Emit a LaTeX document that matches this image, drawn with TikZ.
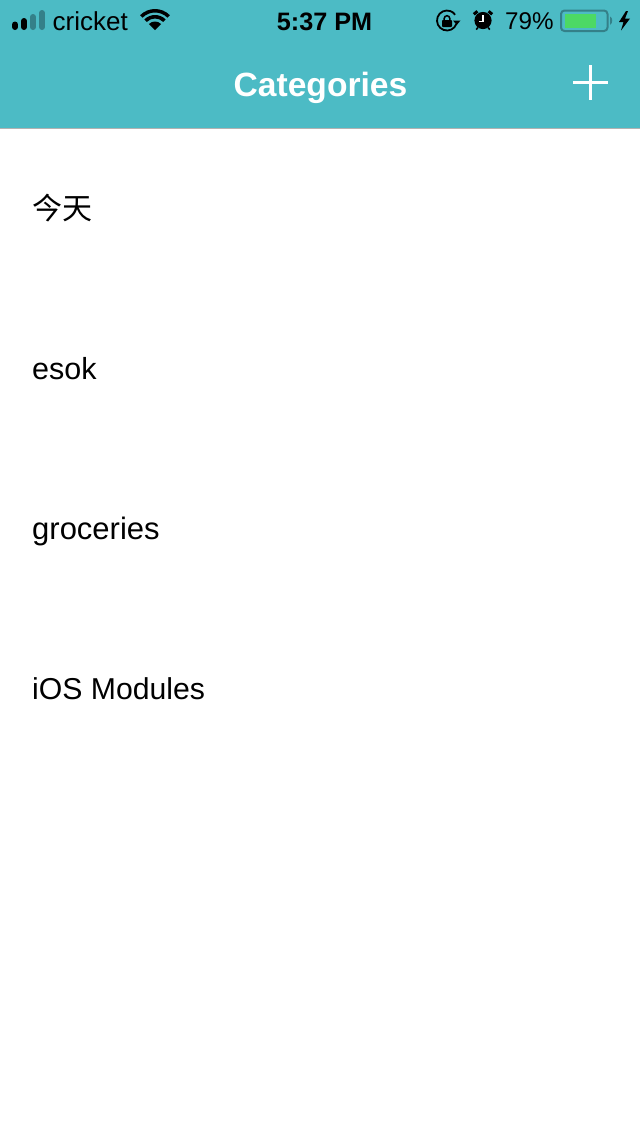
\documentclass[tikz,border=0pt]{standalone}
\usepackage{fontspec}
\setmainfont{Liberation Sans}
\newfontfamily\cjk{Noto Sans CJK SC}
\definecolor{teal}{RGB}{76,187,197}
\definecolor{dimbar}{RGB}{52,128,137}
\definecolor{batt}{RGB}{76,217,100}
\tikzset{
 rowtext/.style={anchor=base west,inner sep=0pt,font=\fontsize{30.5}{34}\selectfont,text=black},
 stat/.style={inner sep=0pt,font=\fontsize{26}{30}\selectfont,text=black},
 bar/.style={line width=6pt,line cap=round},
}
\begin{document}
\begin{tikzpicture}[x=1pt,y=-1pt]
\useasboundingbox (0,0) rectangle (640,1136);
\fill[white] (0,0) rectangle (640,1136);
\fill[teal] (0,0) rectangle (640,128);
\fill[black!30] (0,128) rectangle (640,129);
% signal
\draw[bar,black] (15,24.5) -- (15,27);
\draw[bar,black] (24,21) -- (24,27);
\draw[bar,dimbar] (33,17) -- (33,27);
\draw[bar,dimbar] (42,13) -- (42,27);
\node[stat,anchor=base west] (carrier) at (52.5,30) {cricket};
% wifi (y axis up, apex at origin)
\begin{scope}[shift={(155,30)},yscale=-1]
\fill (0,0) -- (45:8.5) arc[start angle=45,end angle=135,radius=8.5] -- cycle;
\fill (45:11.5) arc[start angle=45,end angle=135,radius=11.5] -- (135:15) arc[start angle=135,end angle=45,radius=15] -- cycle;
\fill (45:17.5) arc[start angle=45,end angle=135,radius=17.5] -- (135:21) arc[start angle=135,end angle=45,radius=21] -- cycle;
\end{scope}
\node[stat,anchor=base,font=\fontsize{25.2}{30}\selectfont\bfseries] (time) at (324.5,30) {5:37 PM};
% rotation lock
\begin{scope}[shift={(447,20.5)},yscale=-1]
\draw[line width=1.8pt] (-20:10) arc[start angle=-20,end angle=-325,radius=10];
\fill (6,0) -- (13.5,0) -- (9.8,-4.5) -- cycle;
\fill[rounded corners=0.8pt] (-5,-6.5) rectangle (5,0.5);
\draw[line width=1.5pt] (-2.8,0.5) -- (-2.8,2) arc[start angle=180,end angle=0,radius=2.8] -- (2.8,0.5);
\end{scope}
% alarm
\begin{scope}[shift={(483,20.5)},yscale=-1]
\fill (0,0) circle[radius=8.6];
\draw[white,line width=1.5pt] (0,5.5) -- (0,-0.8) -- (-4.5,-0.8);
\draw[line width=3pt] (-9.2,6.2) -- (-5.6,9.2);
\draw[line width=3pt] (9.2,6.2) -- (5.6,9.2);
\draw[line width=1.6pt] (-5,-7) -- (-6.8,-9);
\draw[line width=1.6pt] (5,-7) -- (6.8,-9);
\end{scope}
\node[stat,anchor=base west,font=\fontsize{24.2}{30}\selectfont] (pct) at (505,29.5) {79\%};
% battery
\draw[dimbar,line width=2pt,rounded corners=3.5pt] (561,10.5) rectangle (607.5,31);
\fill[batt] (564.5,14) rectangle (596,28);
\fill[dimbar] (610,16.5) .. controls (613,18) and (613,23) .. (610,25) -- cycle;
% bolt
\fill (626,11) -- (619,22) -- (623.5,22) -- (621,30.5) -- (630,18.5) -- (625,18.5) -- (628,11) -- cycle;
% title
\node[inner sep=0pt,anchor=base,text=white,font=\fontsize{33.6}{40}\selectfont\bfseries] (title) at (320.5,96) {Categories};
% plus
\fill[white] (573,81) rectangle (608,84);
\fill[white] (589,65) rectangle (592,100);
% rows
\node[rowtext] (r1) at (32,219) {\fontsize{30}{34}\selectfont\cjk 今天};
\node[rowtext] (r2) at (32,379) {esok};
\node[rowtext] (r3) at (32,539) {\fontsize{31}{34}\selectfont groceries};
\node[rowtext] (r4) at (32,699) {\fontsize{30.2}{34}\selectfont iOS Modules};
\end{tikzpicture}
\end{document}
